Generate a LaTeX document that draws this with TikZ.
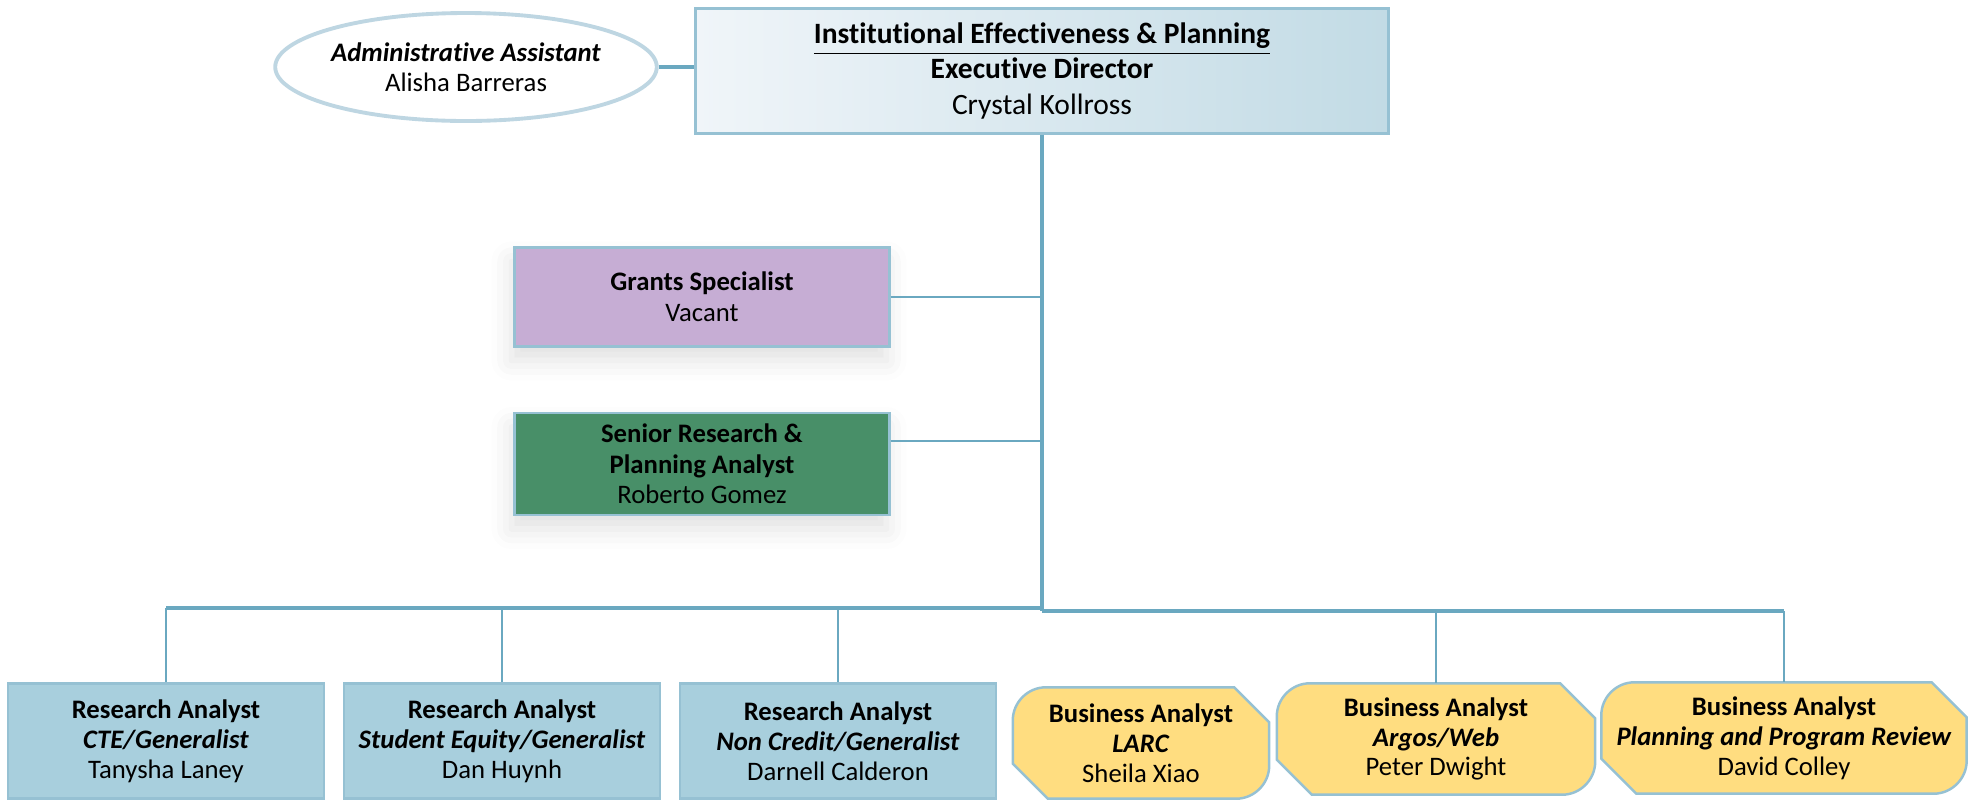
\documentclass[tikz,border=0pt]{standalone}
\usepackage{fontspec}
\setmainfont{Carlito}[Ligatures=NoCommon]
\usetikzlibrary{shapes.geometric,backgrounds,shadows.blur}

\definecolor{linkblue}{RGB}{106,168,192}
\definecolor{edgeblue}{RGB}{150,193,211}
\definecolor{ovalblue}{RGB}{190,214,226}
\definecolor{topLight}{RGB}{240,245,249}
\definecolor{topDark}{RGB}{194,219,229}
\definecolor{raBlue}{RGB}{168,207,221}
\definecolor{baYellow}{RGB}{255,221,128}
\definecolor{grantLilac}{RGB}{198,173,212}
\definecolor{srGreen}{RGB}{72,143,104}

\begin{document}
\begin{tikzpicture}[x=0.1mm,y=-0.1mm,
	box/.style={draw=edgeblue,line width=0.7pt,align=center,inner sep=0pt,
		font=\fontsize{7.6}{8.5}\selectfont},
	ra/.style={box,fill=raBlue,minimum width=31.6mm,minimum height=11.5mm},
	ba/.style={align=center,inner sep=0pt,minimum height=11mm,
		font=\fontsize{7.6}{8.5}\selectfont},
	side/.style={box,minimum width=37.5mm,font=\fontsize{7.6}{8.7}\selectfont,
		blur shadow={shadow xshift=-0.3mm,shadow yshift=-1.4mm,shadow opacity=12,shadow blur radius=2mm}},
	link/.style={draw=linkblue,line width=0.6pt},
	trunk/.style={draw=linkblue,line width=0.9pt}]
	\useasboundingbox (0,0) rectangle (1974,801);
	\node[box,fill=topDark,left color=topLight,right color=topDark,minimum width=69.3mm,minimum height=12.5mm,
		font=\fontsize{8.4}{10}\selectfont] (dir) at (1042,71)
		{\underline{\textbf{Institutional Effectiveness \& Planning}}\\\textbf{Executive Director}\\Crystal Kollross};
	\node[ellipse,draw=ovalblue,line width=1.1pt,fill=white,minimum width=36.3mm,minimum height=10.8mm,
		align=center,inner sep=0pt,font=\fontsize{7.6}{8.4}\selectfont] (asst) at (466,67)
		{\textbf{\textit{Administrative Assistant}}\\Alisha Barreras};
	\node[side,fill=grantLilac,minimum height=9.9mm] (grants) at (702,297) {\textbf{Grants Specialist}\\Vacant};
	\node[side,fill=srGreen,minimum height=10.2mm] (senior) at (702,464)
		{\textbf{Senior Research \&}\\\textbf{Planning Analyst}\\Roberto Gomez};
	\node[ra] (ra1) at (166,741) {\textbf{Research Analyst}\\\textbf{\textit{CTE/Generalist}}\\Tanysha Laney};
	\node[ra] (ra2) at (502,741) {\textbf{Research Analyst}\\\textbf{\textit{Student Equity/Generalist}}\\Dan Huynh};
	\node[ra] (ra3) at (838,741) {\textbf{Research Analyst}\\\textbf{\textit{Non Credit/Generalist}}\\Darnell Calderon};
	\node[ba,minimum width=25.5mm] (ba1) at (1141,743) {\textbf{Business Analyst}\\\textbf{\textit{LARC}}\\Sheila Xiao};
	\node[ba,minimum width=31.7mm] (ba2) at (1436,739) {\textbf{Business Analyst}\\\textbf{\textit{Argos/Web}}\\Peter Dwight};
	\node[ba,minimum width=36.4mm] (ba3) at (1784,738) {\textbf{Business Analyst}\\\textbf{\textit{Planning and Program Review}}\\David Colley};
	% snipped and rounded outlines
	\begin{scope}[on background layer]
		\foreach \n in {ba1,ba2,ba3}
		\filldraw[fill=baYellow,draw=edgeblue,line width=0.7pt]
			([xshift=3.3mm]\n.north west) -- ([xshift=-3.5mm]\n.north east) -- ([yshift=-3.5mm]\n.north east)
			-- ([yshift=3.3mm]\n.south east) .. controls ([yshift=1.5mm]\n.south east) and ([xshift=-1.5mm]\n.south east) .. ([xshift=-3.3mm]\n.south east)
			-- ([xshift=3.5mm]\n.south west) -- ([yshift=3.5mm]\n.south west)
			-- ([yshift=-3.3mm]\n.north west) .. controls ([yshift=-1.5mm]\n.north west) and ([xshift=1.5mm]\n.north west) .. ([xshift=3.3mm]\n.north west) -- cycle;
	\end{scope}
	\coordinate (hub) at (1042,608);
	\coordinate (hubR) at (1042,611);
	\draw[trunk] (asst.east) -- (asst.east -| dir.west);
	\draw[trunk] (dir.south) -- (hubR);
	\draw[link] (grants.east) -- (grants.east -| hub);
	\draw[link] ([yshift=2.3mm]senior.east) -- ([yshift=2.3mm]senior.east -| hub);
	\draw[trunk] (ra1.north |- hub) -- (hub);
	\draw[trunk] (hubR) -- (hubR -| ba3.north);
	\draw[link] (ra1.north |- hub) -- (ra1.north);
	\draw[link] (ra2.north |- hub) -- (ra2.north);
	\draw[link] (ra3.north |- hub) -- (ra3.north);
	\draw[link] (ba2.north |- hubR) -- (ba2.north);
	\draw[link] (ba3.north |- hubR) -- (ba3.north);
\end{tikzpicture}
\end{document}
